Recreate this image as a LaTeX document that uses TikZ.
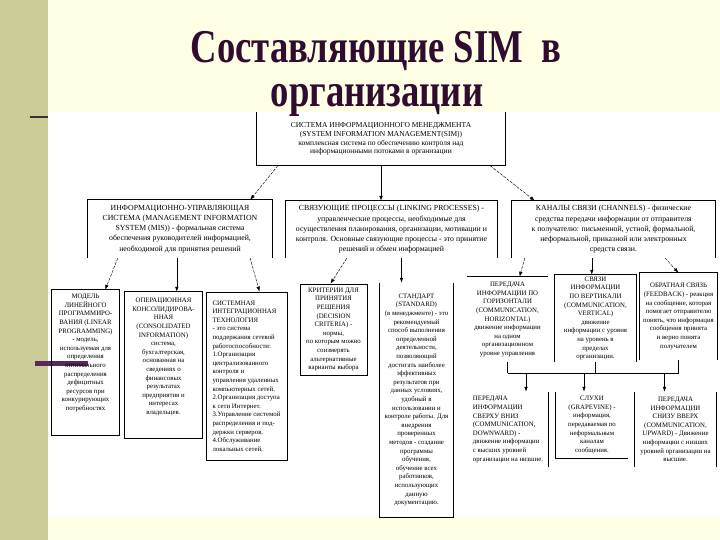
\documentclass[tikz,border=0pt]{standalone}
\usepackage{fontspec}
\setmainfont{Liberation Serif}
\newfontfamily\titlefont[FakeStretch=0.78]{Liberation Serif}
\usetikzlibrary{positioning, calc, arrows.meta}
\definecolor{slidecream}{RGB}{255,255,230}
\definecolor{slideolive}{RGB}{204,204,153}
\definecolor{titleplum}{RGB}{48,12,48}
\definecolor{barplum}{RGB}{90,40,90}
\definecolor{slideline}{RGB}{50,50,50}

\tikzset{
    card/.style={draw=black, line width=0.7pt, inner sep=1pt, align=center},
    bare/.style={inner sep=1pt, align=center},
    boxline/.style={black, line width=0.7pt},
    headfont/.style={font=\fontsize{7.5}{8.8}\selectfont},
    midfont/.style={font=\fontsize{7.8}{10.2}\selectfont},
    smallfont/.style={font=\fontsize{6.8}{8.6}\selectfont},
    titletext/.style={font=\titlefont\bfseries\fontsize{47}{50}\selectfont,
        text=titleplum, anchor=base, inner sep=0pt},
    arr/.style={->, line width=0.6pt},
    slant/.style={->, line width=0.45pt, dash pattern=on 3pt off 1.2pt},
}

\begin{document}
\begin{tikzpicture}[x=1pt, y=-1pt, >={Latex[length=5pt,width=3.5pt]}]
    \useasboundingbox (0,0) rectangle (720,540);

    % Slide background
    \fill[slidecream] (0,0) rectangle (720,540);
    \fill[white] (48,112) rectangle (720,518);
    \fill[slideolive] (0,0) rectangle (48,540);
    \fill[slideline] (30,116) rectangle (48,118.5);
    \fill[barplum] (35,361) rectangle (88,366);

    % Title
    \node[titletext] (title1) at (376,63) {Составляющие SIM\ \ в};
    \node[titletext] (title2) at (377,107) {организации};

    % Top block
    \node[bare, headfont, minimum width=248pt, minimum height=53pt]
        (sim) at (381,139) {СИСТЕМА ИНФОРМАЦИОННОГО МЕНЕДЖМЕНТА\\
        (SYSTEM INFORMATION MANAGEMENT(SIM))\\
        комплексная система по обеспечению контроля над\\
        информационными потоками в организации};
    \draw[boxline] (sim.north west) |- (sim.south east) -- (sim.north east);

    % Second row
    \node[bare, midfont, minimum width=184pt, minimum height=58pt]
        (mis) at (180,229) {ИНФОРМАЦИОННО-УПРАВЛЯЮЩАЯ\\
        СИСТЕМА (MANAGEMENT INFORMATION\\
        SYSTEM (MIS)) - формальная система\\
        обеспечения руководителей информацией,\\
        необходимой для принятия решений};
    \node[bare, midfont, minimum width=211pt, minimum height=57pt]
        (link) at (391.5,229.5) {СВЯЗУЮЩИЕ ПРОЦЕССЫ (LINKING PROCESSES) -\\
        управленческие процессы, необходимые для\\
        осуществления планирования, организации, мотивации и\\
        контроля. Основные связующие процессы - это принятие\\
        решений и обмен информацией};
    \node[bare, midfont, minimum width=203pt, minimum height=57pt]
        (chan) at (613.5,229.5) {КАНАЛЫ СВЯЗИ (CHANNELS) - физические\\
        средства передачи информации от отправителя\\
        к получателю: письменной, устной, формальной,\\
        неформальной, приказной или электронных\\
        средств связи.};
    \foreach \b in {mis, link, chan}
        \draw[boxline] (\b.south west) |- (\b.north east) -- (\b.south east);

    % Third row
    \node[bare, smallfont, minimum width=67pt, minimum height=126pt]
        (blp) at (85.5,353) {МОДЕЛЬ\\ ЛИНЕЙНОГО\\ ПРОГРАММИРО-\\
        ВАНИЯ (LINEAR\\ PROGRAMMING)\\ - модель,\\ используемая для\\
        определения\\ оптимального\\ распределения\\ дефицитных\\
        ресурсов при\\ конкурирующих\\ потребностях};
    \draw[boxline] (blp.north west) rectangle ([yshift=-19pt]blp.south east);
    \node[bare, smallfont, minimum width=77pt, minimum height=130pt]
        (cons) at (163.5,357) {ОПЕРАЦИОННАЯ\\ КОНСОЛИДИРОВА-\\ ННАЯ\\
        (CONSOLIDATED\\ INFORMATION)\\ система,\\ бухгалтерская,\\
        основанная на\\ сведениях о\\ финансовых\\ результатах\\
        предприятия и\\ интересах\\ владельцев.};
    \draw[boxline] (cons.north west) rectangle ([yshift=-16pt]cons.south east);
    \node[card, smallfont, align=left, minimum width=81pt, minimum height=168pt]
        (sit) at (246.5,376) {СИСТЕМНАЯ\\ ИНТЕГРАЦИОННАЯ\\ ТЕХНОЛОГИЯ\\
        - это система\\ поддержания сетевой\\ работоспособности:\\
        1.Организация\\ централизованного\\ контроля и\\
        управления удаленных\\ компьютерных сетей.\\
        2.Организация доступа\\ к сети Интернет.\\
        3.Управление системой\\ распределения и под-\\
        держки серверов.\\ 4.Обслуживание\\ локальных сетей.};
    \node[card, smallfont, minimum width=67pt, minimum height=91pt]
        (crit) at (333.5,329.5) {КРИТЕРИИ ДЛЯ\\ ПРИНЯТИЯ\\ РЕШЕНИЯ\\
        (DECISION\\ CRITERIA) -\\ нормы,\\ по которым можно\\
        соизмерять\\ альтернативные\\ варианты выбора};
    \node[bare, smallfont, minimum width=73pt, minimum height=234pt]
        (stand) at (416.5,400) {СТАНДАРТ\\ (STANDARD)\\ (в менеджменте) - это\\
        рекомендуемый\\ способ выполнения\\ определенной\\ деятельности,\\
        позволяющий\\ достигать наиболее\\ эффективных\\ результатов при\\
        данных условиях,\\ удобный в\\ использовании и\\
        контроле работы. Для\\ внедрения\\ проверенных\\
        методов - создание\\ программы\\ обучения,\\ обучение всех\\
        работников,\\ использующих\\ данную\\ документацию.};
    \draw[boxline] (stand.north west) |- (stand.south east) -- (stand.north east);

    \node[bare, smallfont, minimum width=81pt, minimum height=85pt]
        (hor) at (507.5,319.5) {ПЕРЕДАЧА\\ ИНФОРМАЦИИ ПО\\ ГОРИЗОНТАЛИ\\
        (COMMUNICATION,\\ HORIZONTAL)\\ движение информации\\
        на одном\\ организационном\\ уровне управления};
    \node[bare, smallfont, minimum width=81pt, minimum height=87pt]
        (vert) at (595.5,318.5) {СВЯЗИ\\ ИНФОРМАЦИИ\\ ПО ВЕРТИКАЛИ\\
        (COMMUNICATION,\\ VERTICAL)\\ движение\\ информации с уровня\\
        на уровень в\\ пределах\\ организации.};
    \node[bare, smallfont, minimum width=77pt, minimum height=87pt]
        (feed) at (678.5,316.5) {ОБРАТНАЯ СВЯЗЬ\\ (FEEDBACK) - реакция\\
        на сообщение, которая\\ помогает отправителю\\ понять, что информация\\
        сообщения принята\\ и верно понята\\ получателем};
    \draw[boxline] (hor.north west) -- (hor.north east);
    \foreach \b in {vert, feed}
        \draw[boxline] (\b.south west) |- (\b.north east) -- (\b.south east);

    % Fourth row
    \node[bare, smallfont, align=left, minimum width=80pt, minimum height=75pt]
        (down) at (508,429.5) {ПЕРЕДАЧА\\ ИНФОРМАЦИИ\\ СВЕРХУ ВНИЗ\\
        (COMMUNICATION,\\ DOWNWARD) -\\ движение информации\\
        с высших уровней\\ организации на низшие.};
    \node[bare, smallfont, minimum width=72pt, minimum height=66pt]
        (grape) at (592,425) {СЛУХИ\\ (GRAPEVINE) -\\ информация,\\
        передаваемая по\\ неформальным\\ каналам\\ сообщения.};
    \node[bare, smallfont, minimum width=81pt, minimum height=75pt]
        (up) at (675.5,429.5) {ПЕРЕДАЧА\\ ИНФОРМАЦИИ\\ СНИЗУ ВВЕРХ\\
        (COMMUNICATION,\\ UPWARD) - Движение\\ информации с низших\\
        уровней организации на\\ высшие.};
    \draw[boxline] (down.north east) -- (down.south east);
    \draw[boxline] (grape.north west) |- (grape.south east);
    \draw[boxline] (up.north west) -- (up.south west);
    \draw[boxline] (up.north east) -- (up.south east);

    % Arrows from the top block
    \draw[slant] ([xshift=21pt]sim.south west) -- ([xshift=-22pt]mis.north east);
    \draw[arr] (sim.south) -- (sim.south |- link.north);
    \draw[slant] ([xshift=-15pt]sim.south east) -- ([xshift=23pt]chan.north west);

    % Arrows from the second row
    \draw[slant] ([xshift=30pt]mis.south west) -- ([xshift=-14pt]blp.north east);
    \draw[arr] ([xshift=89pt]mis.south west) -- ([xshift=89pt]mis.south west |- cons.north);
    \draw[slant] ([xshift=-22pt]mis.south east) -- ([xshift=13pt]sit.north);
    \draw[slant] ([xshift=61pt]link.south west) -- ([xshift=-3pt]crit.north);
    \draw[arr] ([xshift=10pt]link.south) -- ([xshift=10pt]link.south |- stand.north);
    \draw[slant] ([xshift=13pt]chan.south west) -- ([xshift=12pt]hor.north);
    \draw[arr] ([xshift=80pt]chan.south west) -- ([xshift=80pt]chan.south west |- vert.north);
    \draw[slant] ([xshift=-50pt]chan.south east) -- (feed.north);

    % Bracket to the fourth row
    \coordinate (bar) at (592,373);
    \foreach \b in {hor, vert, feed}
        \draw[boxline] (\b.south) -- (\b.south |- bar);
    \draw[boxline] (hor.south |- bar) -- (feed.south |- bar);
    \draw[arr] ([xshift=18pt]down.north |- bar) -- ([xshift=18pt]down.north);
    \draw[arr] ([xshift=-8pt]grape.north |- bar) -- ([xshift=-8pt]grape.north);
    \draw[arr] ([xshift=-11pt]up.north |- bar) -- ([xshift=-11pt]up.north);
\end{tikzpicture}
\end{document}
